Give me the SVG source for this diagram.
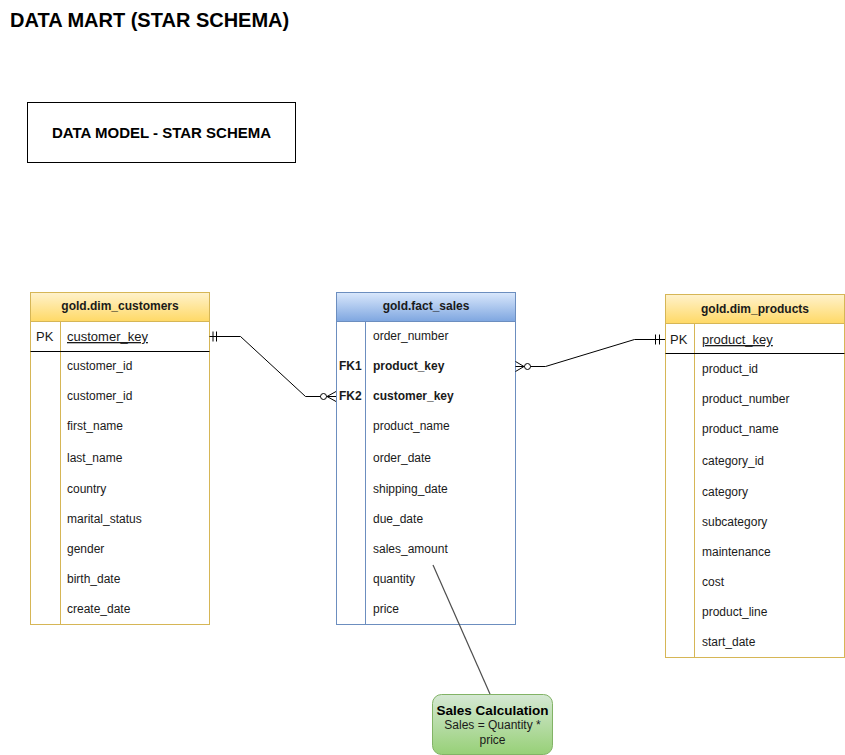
<svg xmlns="http://www.w3.org/2000/svg" width="845" height="755" viewBox="0 0 845 755">
<defs>
<linearGradient id="gy" x1="0" y1="0" x2="0" y2="1"><stop offset="0" stop-color="#fff2cc"/><stop offset="1" stop-color="#ffd966"/></linearGradient>
<linearGradient id="gb" x1="0" y1="0" x2="0" y2="1"><stop offset="0" stop-color="#dae8fc"/><stop offset="1" stop-color="#7ea6e0"/></linearGradient>
<linearGradient id="gg" x1="0" y1="0" x2="0" y2="1"><stop offset="0" stop-color="#d5e8d4"/><stop offset="1" stop-color="#97d077"/></linearGradient>
</defs>
<style>
text{font-family:"Liberation Sans",Arial,Helvetica,sans-serif;font-size:12px;fill:#1a1a1a}
.hd{font-weight:bold;text-anchor:middle}
.b{font-weight:bold}
.u{text-decoration:underline}
.pk{font-size:13px}
.ybox{fill:#ffffff;stroke:#d6b656;stroke-width:1}
.bbox{fill:#ffffff;stroke:#6c8ebf;stroke-width:1}
.yh{fill:url(#gy);stroke:#d6b656}
.bh{fill:url(#gb);stroke:#6c8ebf}
.sepy{stroke:#d6b656;stroke-width:1}
.sepb{stroke:#6c8ebf;stroke-width:1}
.edge{fill:none;stroke:#000;stroke-width:1}
</style>
<rect width="845" height="755" fill="#ffffff"/>
<g id="title"><text x="10" y="27" style="font-size:20px;font-weight:bold;fill:#000">DATA MART (STAR SCHEMA)</text></g>
<g id="model-box">
<rect x="27.5" y="102.5" width="268" height="60" fill="#fff" stroke="#000"/>
<text x="161.5" y="138" class="hd" style="font-size:15px;fill:#000">DATA MODEL - STAR SCHEMA</text>
</g>
<g id="dim_customers">
<rect x="30.5" y="292.5" width="179" height="332" class="ybox"/>
<rect x="30.5" y="292.5" width="179" height="29" class="yh"/>
<text x="120" y="310" class="hd">gold.dim_customers</text>
<line x1="60.5" y1="321.5" x2="60.5" y2="624.5" class="sepy"/>
<line x1="30.5" y1="351.5" x2="209.5" y2="351.5" stroke="#000"/>
<text x="36" y="341" class="pk">PK</text>
<text x="67" y="341" class="u pk">customer_key</text>
<text x="67" y="370">customer_id</text>
<text x="67" y="400">customer_id</text>
<text x="67" y="430">first_name</text>
<text x="67" y="462">last_name</text>
<text x="67" y="493">country</text>
<text x="67" y="523">marital_status</text>
<text x="67" y="553">gender</text>
<text x="67" y="583">birth_date</text>
<text x="67" y="613">create_date</text>
</g>
<g id="fact_sales">
<rect x="336.5" y="292.5" width="179" height="332" class="bbox"/>
<rect x="336.5" y="292.5" width="179" height="29" class="bh"/>
<text x="426" y="310" class="hd">gold.fact_sales</text>
<line x1="365.5" y1="321.5" x2="365.5" y2="624.5" class="sepb"/>
<text x="373" y="340">order_number</text>
<text x="339" y="370" class="b">FK1</text>
<text x="373" y="370" class="b">product_key</text>
<text x="339" y="400" class="b">FK2</text>
<text x="373" y="400" class="b">customer_key</text>
<text x="373" y="430">product_name</text>
<text x="373" y="462">order_date</text>
<text x="373" y="493">shipping_date</text>
<text x="373" y="523">due_date</text>
<text x="373" y="553">sales_amount</text>
<text x="373" y="583">quantity</text>
<text x="373" y="613">price</text>
</g>
<g id="dim_products">
<rect x="665.5" y="294.5" width="179" height="363" class="ybox"/>
<rect x="665.5" y="294.5" width="179" height="29" class="yh"/>
<text x="755" y="313" class="hd">gold.dim_products</text>
<line x1="694.5" y1="323.5" x2="694.5" y2="657.5" class="sepy"/>
<line x1="665.5" y1="353.5" x2="844.5" y2="353.5" stroke="#000"/>
<text x="670" y="344" class="pk">PK</text>
<text x="702" y="344" class="u pk">product_key</text>
<text x="702" y="373">product_id</text>
<text x="702" y="403">product_number</text>
<text x="702" y="433">product_name</text>
<text x="702" y="465">category_id</text>
<text x="702" y="496">category</text>
<text x="702" y="526">subcategory</text>
<text x="702" y="556">maintenance</text>
<text x="702" y="586">cost</text>
<text x="702" y="616">product_line</text>
<text x="702" y="646">start_date</text>
</g>
<g id="sales_calc">
<rect x="432.5" y="694.5" width="120" height="60" rx="9" fill="url(#gg)" stroke="#82b366"/>
<text x="492.5" y="715" class="hd" style="font-size:13.5px;fill:#000">Sales Calculation</text>
<text x="492.5" y="729" style="text-anchor:middle;font-size:12px">Sales = Quantity *</text>
<text x="492.5" y="744" style="text-anchor:middle;font-size:12px">price</text>
</g>
<g id="connectors">
<polyline class="edge" points="209.5,336.5 240.5,336.5 305.5,396.5 336,396.5"/>
<line class="edge" x1="213" y1="331.5" x2="213" y2="341.5"/>
<line class="edge" x1="216.5" y1="331.5" x2="216.5" y2="341.5"/>
<circle cx="323.5" cy="396.5" r="3" fill="#fff" stroke="#000"/>
<polyline class="edge" points="336,391.5 327,396.5 336,401.5"/>
<polyline class="edge" points="515.5,366.5 545.5,366.5 634.5,339.5 665,339.5"/>
<polyline class="edge" points="515.5,361.5 524,366.5 515.5,371.5"/>
<circle cx="527.5" cy="366.5" r="3" fill="#fff" stroke="#000"/>
<line class="edge" x1="655.5" y1="334.5" x2="655.5" y2="344.5"/>
<line class="edge" x1="659.5" y1="334.5" x2="659.5" y2="344.5"/>
<line x1="433" y1="565" x2="490" y2="694" stroke="#4d4d4d" stroke-width="1.2"/>
</g>
</svg>
